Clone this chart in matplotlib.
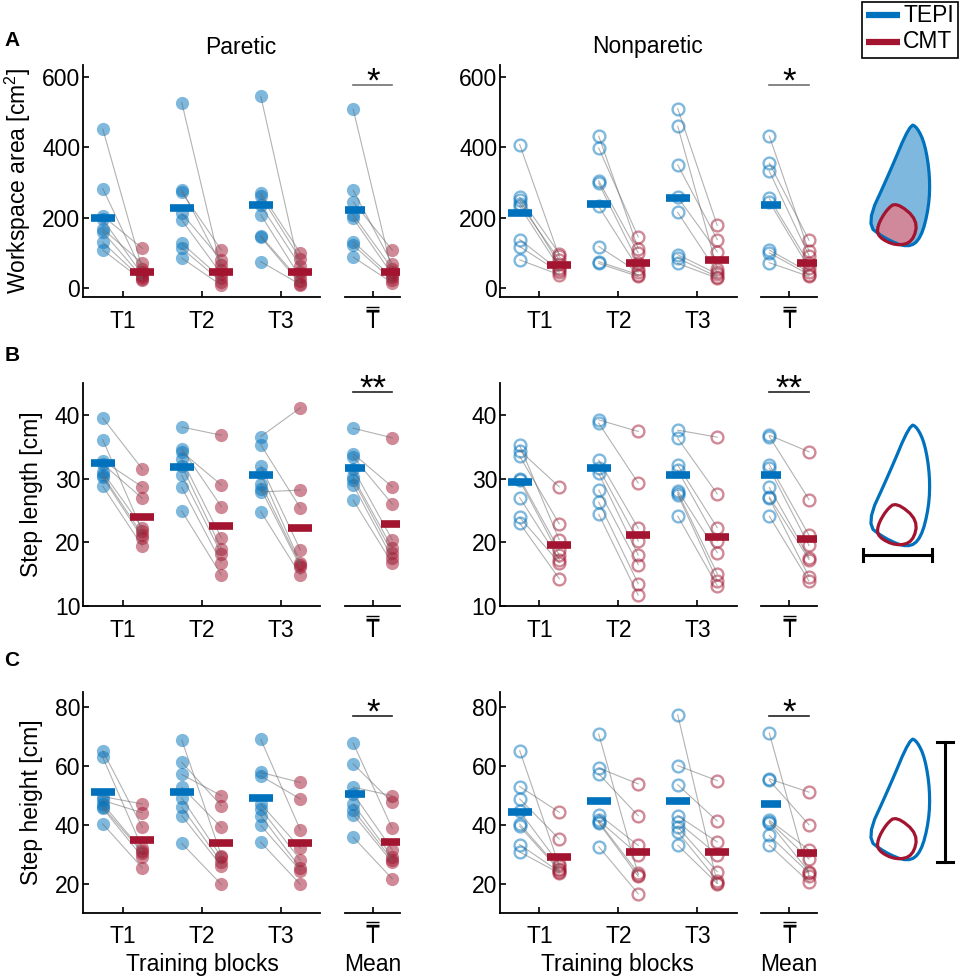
import matplotlib
matplotlib.use('Agg')
import matplotlib.pyplot as plt
import numpy as np
from matplotlib.patches import Polygon, Rectangle
from matplotlib.transforms import blended_transform_factory, ScaledTranslation

plt.rcParams['font.family'] = ['Liberation Sans', 'DejaVu Sans']
plt.rcParams['mathtext.fontset'] = 'custom'
plt.rcParams['mathtext.rm'] = 'Liberation Sans'

BLUE = '#0072BD'
RED = '#A2142F'
FS = 16.5

block_labels = ['T1', 'T2', 'T3']
mean_label = 'T'   # double bar is drawn on top of it below

# ── Data: rows = T1, T2, T3, mean over blocks; columns = 8 subjects ───────────
area_par_tepi = np.array([[452, 283, 205, 195, 168, 160, 130, 108],
                          [527, 280, 272, 212, 193, 127, 113, 85],
                          [545, 270, 262, 235, 208, 148, 145, 75],
                          [508, 278, 245, 208, 198, 132, 122, 88]])
area_par_cmt = np.array([[55, 45, 113, 38, 70, 30, 25, 22],
                         [52, 65, 108, 80, 40, 28, 18, 8],
                         [45, 100, 82, 62, 30, 20, 12, 10],
                         [45, 68, 108, 55, 38, 30, 22, 15]])
area_par_bar_tepi = [200, 227, 236, 221]
area_par_bar_cmt = [47, 47, 46, 46]

area_non_tepi = np.array([[408, 258, 250, 240, 232, 138, 118, 80],
                          [432, 398, 305, 298, 232, 118, 75, 70],
                          [510, 460, 350, 258, 215, 95, 85, 70],
                          [432, 355, 332, 255, 245, 108, 100, 72]])
area_non_cmt = np.array([[90, 98, 68, 80, 58, 50, 45, 38],
                         [112, 145, 100, 72, 55, 45, 38, 33],
                         [178, 55, 138, 103, 45, 40, 32, 28],
                         [104, 136, 92, 70, 57, 45, 38, 33]])
area_non_bar_tepi = [212, 240, 255, 236]
area_non_bar_cmt = [66, 72, 80, 70]

len_par_tepi = np.array([[39.5, 36.1, 32.8, 32.3, 31.0, 30.5, 30.2, 28.8],
                         [38.1, 34.7, 34.2, 33.0, 32.0, 30.5, 28.6, 24.9],
                         [36.6, 35.3, 32.0, 30.8, 29.2, 28.4, 27.9, 24.8],
                         [37.9, 33.9, 33.4, 31.5, 30.2, 29.8, 29.0, 26.6]])
len_par_cmt = np.array([[31.5, 21.8, 28.7, 26.9, 22.3, 21.2, 20.7, 19.4],
                        [36.8, 25.6, 29.0, 20.7, 19.0, 18.2, 16.8, 14.9],
                        [41.1, 25.4, 18.8, 16.8, 16.5, 16.2, 28.2, 14.9],
                        [36.4, 28.7, 26.0, 20.4, 19.1, 18.3, 17.5, 16.7]])
len_par_bar_tepi = [32.4, 31.8, 30.5, 31.6]
len_par_bar_cmt = [24.0, 22.5, 22.2, 22.9]

len_non_tepi = np.array([[35.2, 34.4, 33.5, 30.0, 29.7, 27.0, 23.9, 23.0],
                         [39.2, 38.7, 32.9, 31.6, 30.8, 28.2, 26.3, 24.4],
                         [37.6, 36.3, 32.1, 31.3, 28.1, 27.8, 27.5, 24.1],
                         [36.8, 36.6, 32.2, 31.6, 28.6, 27.1, 26.9, 24.1]])
len_non_cmt = np.array([[20.4, 28.7, 22.9, 18.8, 18.0, 17.3, 16.8, 14.3],
                        [37.4, 29.3, 22.2, 20.2, 18.0, 16.5, 13.5, 11.7],
                        [36.5, 27.6, 22.3, 20.2, 18.4, 15.1, 14.0, 13.2],
                        [34.2, 26.7, 21.1, 19.5, 17.6, 17.3, 14.6, 13.9]])
len_non_bar_tepi = [29.5, 31.6, 30.5, 30.5]
len_non_bar_cmt = [19.5, 21.1, 20.8, 20.5]

hgt_par_tepi = np.array([[65.0, 62.8, 49.5, 48.2, 47.0, 46.0, 45.5, 40.2],
                         [68.7, 61.1, 57.0, 52.7, 49.0, 45.9, 43.0, 33.6],
                         [68.9, 57.7, 56.5, 47.0, 45.3, 43.0, 39.7, 34.0],
                         [67.6, 60.6, 52.7, 50.5, 47.0, 45.0, 43.4, 35.7]])
hgt_par_cmt = np.array([[39.1, 32.0, 47.0, 44.0, 31.0, 30.5, 29.0, 25.3],
                        [29.5, 46.4, 49.8, 39.1, 29.0, 27.2, 26.0, 19.7],
                        [38.2, 54.3, 48.7, 32.0, 28.0, 25.3, 24.4, 19.7],
                        [38.7, 47.5, 49.8, 31.5, 29.0, 28.0, 27.2, 21.6]])
hgt_par_bar_tepi = [51.0, 51.0, 49.0, 50.4]
hgt_par_bar_cmt = [34.8, 33.7, 33.7, 34.1]

hgt_non_tepi = np.array([[65.1, 52.9, 48.7, 44.5, 40.2, 39.4, 33.2, 30.7],
                         [70.7, 59.2, 57.2, 43.4, 41.4, 41.0, 40.6, 32.5],
                         [77.2, 60.0, 53.5, 43.0, 40.9, 39.2, 37.5, 33.0],
                         [71.0, 55.5, 55.0, 41.5, 41.0, 40.6, 36.3, 33.0]])
hgt_non_cmt = np.array([[26.0, 44.2, 35.1, 26.6, 25.0, 24.5, 24.0, 23.5],
                        [23.0, 53.8, 43.0, 32.9, 29.8, 23.5, 22.4, 16.5],
                        [20.2, 54.9, 41.2, 34.1, 29.8, 24.0, 21.0, 20.0],
                        [22.4, 51.0, 39.9, 31.4, 28.3, 24.0, 23.5, 20.5]])
hgt_non_bar_tepi = [44.2, 48.1, 48.0, 47.0]
hgt_non_bar_cmt = [28.9, 30.6, 30.8, 30.2]

# significance bars: (height, stars)
sig_area = (577, '*')
sig_len = (43.6, '**')
sig_hgt = (77.0, '*')

fig = plt.figure(figsize=(9.6, 9.8), dpi=100)
fig.patch.set_facecolor('white')

# ── Axes layout (figure fractions) ────────────────────────────────────────────
row_pos = [(0.6969, 0.2367), (0.3816, 0.2276), (0.0684, 0.2255)]
col_pos = [((0.0865, 0.2469), (0.3594, 0.0573)),
           ((0.5208, 0.2469), (0.7927, 0.0583))]
XPAD = 9


def style_axes(ax_main, ax_mean, ylim, yticks):
    for ax in (ax_main, ax_mean):
        ax.set_ylim(*ylim)
        ax.spines['top'].set_visible(False)
        ax.spines['right'].set_visible(False)
        ax.spines['bottom'].set_linewidth(1.3)
        ax.spines['left'].set_linewidth(1.3)
        ax.tick_params(direction='in', length=4, width=1.2, labelsize=FS)
        ax.tick_params(axis='x', pad=XPAD)
        ax.tick_params(axis='y', pad=2)
        ax.patch.set_alpha(0)
    ax_main.set_xlim(0.5, 3.5)
    ax_main.set_xticks([1, 2, 3])
    ax_main.set_xticklabels(block_labels)
    ax_main.set_yticks(yticks)
    ax_mean.set_xlim(0.645, 1.35)
    ax_mean.set_xticks([1])
    ax_mean.set_xticklabels([mean_label])
    ax_mean.spines['left'].set_visible(False)
    ax_mean.set_yticks([])
    # double overline over the "T" tick label
    base = blended_transform_factory(ax_mean.transData, ax_mean.transAxes)
    for dy in (9.5, 12.5):
        t = base + ScaledTranslation(0, -dy / 100, fig.dpi_scale_trans)
        ax_mean.plot([0.917, 1.083], [0, 0], transform=t, color='black',
                     lw=1.0, clip_on=False, solid_capstyle='butt')


def draw_panel(ax_main, ax_mean, tepi, cmt, bar_t, bar_c, filled, sig, sig_color):
    for k in range(4):
        ax = ax_main if k < 3 else ax_mean
        xc = k + 1 if k < 3 else 1
        xt, xm = xc - 0.25, xc + 0.25
        for a, b in zip(tepi[k], cmt[k]):
            ax.plot([xt, xm], [a, b], color='0.4', lw=0.8, alpha=0.5, zorder=3)
        for x, vals, col in ((xt, tepi[k], BLUE), (xm, cmt[k], RED)):
            if filled:
                ax.plot([x] * len(vals), vals, 'o', ms=9.5, mfc=col, mec='none',
                        alpha=0.5, zorder=2)
            else:
                ax.plot([x] * len(vals), vals, 'o', ms=8.5, mfc='none', mec=col,
                        mew=1.7, alpha=0.5, zorder=2)
        ax.plot([xt - 0.15, xt + 0.15], [bar_t[k]] * 2, color=BLUE, lw=5.5,
                solid_capstyle='butt', zorder=4)
        ax.plot([xm - 0.15, xm + 0.15], [bar_c[k]] * 2, color=RED, lw=5.5,
                solid_capstyle='butt', zorder=4)
    y, stars = sig
    ax_mean.plot([0.75, 1.25], [y, y], color=sig_color, lw=1.2, clip_on=False)
    ax_mean.annotate(stars, xy=(1, y), xytext=(0, -5), textcoords='offset points',
                     ha='center', va='baseline', fontsize=25, clip_on=False)


panels = [
    [(area_par_tepi, area_par_cmt, area_par_bar_tepi, area_par_bar_cmt),
     (area_non_tepi, area_non_cmt, area_non_bar_tepi, area_non_bar_cmt)],
    [(len_par_tepi, len_par_cmt, len_par_bar_tepi, len_par_bar_cmt),
     (len_non_tepi, len_non_cmt, len_non_bar_tepi, len_non_bar_cmt)],
    [(hgt_par_tepi, hgt_par_cmt, hgt_par_bar_tepi, hgt_par_bar_cmt),
     (hgt_non_tepi, hgt_non_cmt, hgt_non_bar_tepi, hgt_non_bar_cmt)],
]
ylims = [(-25.6, 634), (10, 45), (10, 85)]
yticks = [[0, 200, 400, 600], [10, 20, 30, 40], [20, 40, 60, 80]]
sigs = [sig_area, sig_len, sig_hgt]
sig_colors = ['#707070', '#222222', '#222222']
ylabels = ['Workspace area [cm$^2$]', 'Step length [cm]', 'Step height [cm]']
ylabel_x = [-0.211, -0.169, -0.169]

for r in range(3):
    bottom, height = row_pos[r]
    for c in range(2):
        (ml, mw), (nl, nw) = col_pos[c]
        ax_main = fig.add_axes([ml, bottom, mw, height])
        ax_mean = fig.add_axes([nl, bottom, nw, height])
        style_axes(ax_main, ax_mean, ylims[r], yticks[r])
        tepi, cmt, bt, bc = panels[r][c]
        draw_panel(ax_main, ax_mean, tepi, cmt, bt, bc, filled=(c == 0),
                   sig=sigs[r], sig_color=sig_colors[r])
        if c == 0:
            ax_main.set_ylabel(ylabels[r], fontsize=FS)
            ax_main.yaxis.set_label_coords(ylabel_x[r], 0.5)

# ── Overlay in pixel coordinates: titles, letters, legend, icons ─────────────
ov = fig.add_axes([0, 0, 1, 1])
ov.set_xlim(0, 960)
ov.set_ylim(980, 0)
ov.axis('off')
ov.patch.set_alpha(0)

ov.text(241, 47, 'Paretic', ha='center', va='center', fontsize=FS)
ov.text(648, 47, 'Nonparetic', ha='center', va='center', fontsize=FS)
for letter, yy in (('A', 40), ('B', 355), ('C', 660)):
    ov.text(12, yy, letter, ha='center', va='center', fontsize=15, fontweight='bold')
for xx in (202, 617):
    ov.text(xx, 964, 'Training blocks', ha='center', va='center', fontsize=FS)
for xx in (373, 789):
    ov.text(xx, 964, 'Mean', ha='center', va='center', fontsize=FS)

# legend box
ov.add_patch(Rectangle((862, 2), 96, 56, facecolor='white', edgecolor='black', lw=1.2))
ov.plot([866, 900], [15, 15], color=BLUE, lw=4.5, solid_capstyle='butt')
ov.plot([866, 900], [42, 42], color=RED, lw=4.5, solid_capstyle='butt')
ov.text(903, 15, 'TEPI', ha='left', va='center', fontsize=16.5)
ov.text(903, 42, 'CMT', ha='left', va='center', fontsize=16.5)


def smooth_closed(pts, n=3):
    p = np.asarray(pts, float)
    for _ in range(n):
        q = np.roll(p, -1, axis=0)
        out = np.empty((2 * len(p), 2))
        out[0::2] = 0.75 * p + 0.25 * q
        out[1::2] = 0.25 * p + 0.75 * q
        p = out
    return p


outer = [(42, 124), (49, 121), (57, 104), (62, 72), (61, 41), (53, 9.5),
         (40, 0), (16.7, 9.5), (-2, 24), (21, 74)]
inner = [(28.3, 46), (50, 28), (45, 6), (28, 2), (10, 11), (9.3, 22), (18.3, 38)]


def icon(x0, ybot, fill):
    o = smooth_closed(outer, 2)
    i = smooth_closed(inner, 2)
    o = np.column_stack([x0 + o[:, 0], ybot - o[:, 1]])
    i = np.column_stack([x0 + i[:, 0], ybot - i[:, 1]])
    if fill:
        ov.add_patch(Polygon(o, closed=True, facecolor='#7FB8DE', edgecolor='none'))
        ov.add_patch(Polygon(i, closed=True, facecolor='#D0899A', edgecolor='none'))
    ov.add_patch(Polygon(o, closed=True, facecolor='none', edgecolor=BLUE, lw=2.3,
                         joinstyle='round'))
    ov.add_patch(Polygon(i, closed=True, facecolor='none', edgecolor=RED, lw=2.3,
                         joinstyle='round'))


icon(868, 248, True)
icon(868, 548, False)
icon(868, 862, False)

# step length scale bar
ov.plot([863, 932], [555, 555], color='black', lw=2.2)
ov.plot([863, 863], [549, 561], color='black', lw=2.2)
ov.plot([932, 932], [549, 561], color='black', lw=2.2)
# step height scale bar
ov.plot([945, 945], [742, 862], color='black', lw=2.2)
ov.plot([937, 953], [742, 742], color='black', lw=2.2)
ov.plot([937, 953], [862, 862], color='black', lw=2.2)

fig.savefig('out.png', dpi=100, facecolor='white')
